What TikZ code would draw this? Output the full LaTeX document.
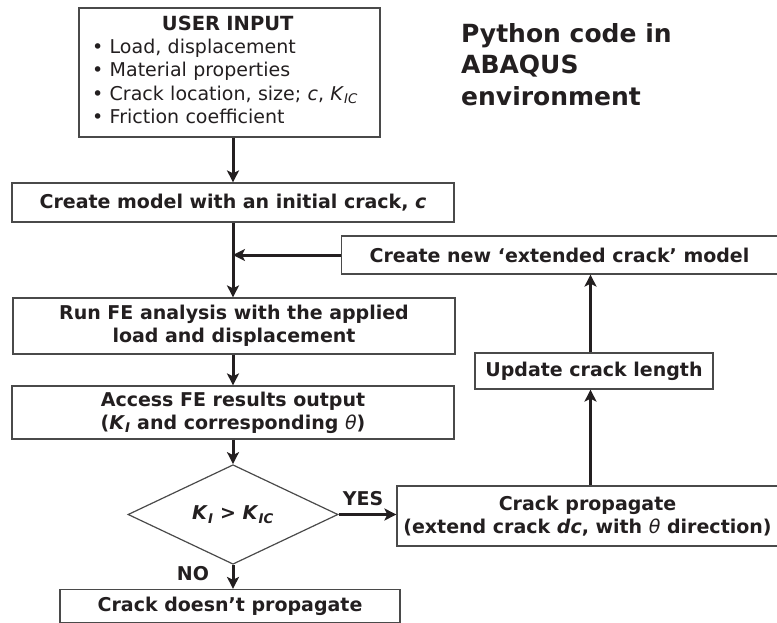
\documentclass[tikz,border=0pt]{standalone}
\usepackage{fontspec}
\setmainfont{DejaVu Sans}
\usetikzlibrary{shapes.geometric,arrows.meta,calc}
\newcommand{\Kx}[1]{\textit{K}\textsubscript{\textit{#1}}}
\newcommand{\thet}{{\mdseries\itshape θ}}
\definecolor{ink}{HTML}{231F20}
\definecolor{edge}{HTML}{4A4A4A}
\begin{document}
\begin{tikzpicture}[x=1pt,y=-1pt,
  box/.style={draw=edge,line width=1.2pt,fill=white,inner sep=0pt,align=center,text=ink,
    font=\fontsize{19}{23}\selectfont\bfseries},
  arr/.style={line width=3pt,ink,-{Stealth[length=12pt,width=12pt,inset=3pt]}},
  lbl/.style={text=ink,font=\fontsize{19}{23}\selectfont\bfseries,inner sep=0pt}]
\useasboundingbox (0,0) rectangle (777,623);
\coordinate (spine) at (233,0);
\coordinate (rx) at (590.5,0);
\node[box,minimum width=301pt,minimum height=129pt] (ui) at (229.5,72.5) {};
\node[text=ink,inner sep=0pt,text width=271pt,align=left,anchor=north west,
  font=\fontsize{19}{23.3}\selectfont] (uit) at (92,15.5)
  {{\centering\fontsize{19.5}{23.3}\selectfont\bfseries USER INPUT\par}
   • Load, displacement\\
   • Material properties\\
   • Crack location, size; \textit{c}, \Kx{IC}\\
   • Friction coefficient};
\node[box,minimum width=442pt,minimum height=39pt] (cm) at (233,202.5) {Create model with an initial crack, \textit{c}};
\node[box,minimum width=436pt,minimum height=38pt] (cn) at (559.5,255) {Create new ‘extended crack’ model};
\node[box,minimum width=442pt,minimum height=56pt] (run) at (234,326) {Run FE analysis with the applied\\load and displacement};
\node[box,minimum width=442pt,minimum height=53pt] (acc) at (233,412.5) {Access FE results output\\(\Kx{I} and corresponding \thet)};
\node[box,diamond,minimum width=210pt,minimum height=91pt] (dec) at (233,514.5) {\Kx{I} > \Kx{IC}};
\node[box,minimum width=381pt,minimum height=60pt] (cp) at (587.5,516) {Crack propagate\\(extend crack \textit{dc}, with \thet\ direction)};
\node[box,minimum width=238pt,minimum height=36pt] (up) at (594,371) {Update crack length};
\node[box,minimum width=340pt,minimum height=33pt] (nd) at (230,606) {Crack doesn’t propagate};
\node[text=ink,inner sep=0pt,anchor=north west,align=left,
  font=\fontsize{25}{31.5}\selectfont\bfseries] (py) at (461,23) {Python code in\\ABAQUS\\environment};
\node[lbl] (yes) at (363,499) {YES};
\node[lbl] (no) at (193,574) {NO};
\draw[arr] (ui.south -| spine) -- (cm.north -| spine);
\draw[arr] (cm.south -| spine) -- (run.north -| spine);
\draw[arr] (cn.west) -- (cn.west -| spine);
\draw[arr] (run.south -| spine) -- (acc.north -| spine);
\draw[arr] (acc.south -| spine) -- (dec.north);
\draw[arr] (dec.east) -- (cp.west |- dec.east);
\draw[arr] (dec.south) -- (nd.north -| dec.south);
\draw[arr] (cp.north -| rx) -- (up.south -| rx);
\draw[arr] (up.north -| rx) -- (cn.south -| rx);
\end{tikzpicture}
\end{document}
